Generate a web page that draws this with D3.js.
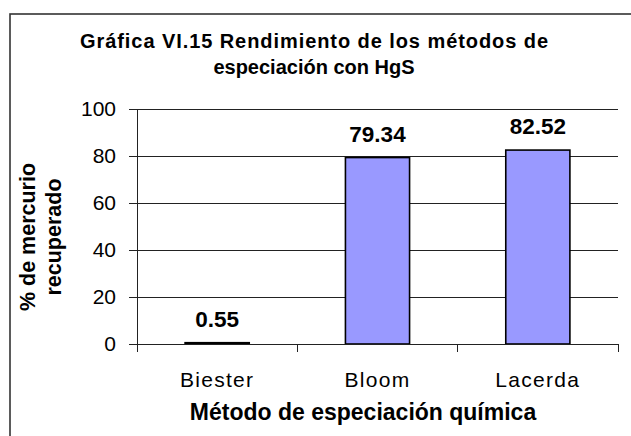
<!DOCTYPE html>
<html><head><meta charset="utf-8">
<script src="https://cdn.jsdelivr.net/npm/d3@7"></script>
<style>
html,body{margin:0;padding:0;background:#fff;}
svg{display:block;font-family:"Liberation Sans",Arial,sans-serif;}
</style></head>
<body>
<svg id="chart" width="631" height="436"></svg>
<script>
const categories = ["Biester", "Bloom", "Lacerda"];
const values = [0.55, 79.34, 82.52];
const valueLabels = ["0.55", "79.34", "82.52"];
const yTicks = [0, 20, 40, 60, 80, 100];
const titleLines = ["Gráfica VI.15 Rendimiento de los métodos de", "especiación con HgS"];
const yTitleLines = ["% de mercurio", "recuperado"];
const xTitle = "Método de especiación química";

const svg = d3.select("#chart");
const plot = {left: 137, right: 618, top: 109, bottom: 344};

// outer frame (clipped by the viewport on right/bottom)
svg.append("rect").attr("x", 10).attr("y", 14).attr("width", 660).attr("height", 460)
  .attr("fill", "none").attr("stroke", "#333").attr("stroke-width", 1.6);

const x = d3.scaleBand().domain(categories).range([plot.left, plot.right]).paddingInner(0).paddingOuter(0);
const y = d3.scaleLinear().domain([0, 100]).range([plot.bottom, plot.top]);

// gridlines
svg.append("g").selectAll("line").data(yTicks.filter(t => t > 0)).join("line")
  .attr("x1", plot.left).attr("x2", plot.right)
  .attr("y1", d => y(d)).attr("y2", d => y(d))
  .attr("stroke", "#222").attr("stroke-width", 1).attr("shape-rendering", "crispEdges");

// y axis
const yAxis = d3.axisLeft(y).tickValues(yTicks).tickSize(8).tickPadding(13).tickSizeOuter(0);
const gy = svg.append("g").attr("transform", `translate(${plot.left},0)`).call(yAxis);
gy.select(".domain").attr("stroke", "#222").attr("shape-rendering", "crispEdges");
gy.selectAll(".tick line").attr("stroke", "#222").attr("shape-rendering", "crispEdges");
gy.selectAll(".tick text").attr("font-size", 21).attr("fill", "#000")
  .attr("font-family", "Liberation Sans, Arial, sans-serif");

// bars
svg.append("g").selectAll("rect").data(values).join("rect")
  .attr("x", (d, i) => x(categories[i]) + x.bandwidth() * 0.3)
  .attr("width", x.bandwidth() * 0.4)
  .attr("y", d => y(d))
  .attr("height", d => y(0) - y(d))
  .attr("fill", "#9999FF").attr("stroke", "#000").attr("stroke-width", 1.6);

// x axis
const xAxis = d3.axisBottom(x).tickSize(0).tickPadding(0);
const gx = svg.append("g").attr("transform", `translate(0,${plot.bottom})`).call(xAxis);
gx.select(".domain").remove();
gx.append("line").attr("x1", plot.left).attr("x2", plot.right).attr("y1", 0).attr("y2", 0)
  .attr("stroke", "#222").attr("shape-rendering", "crispEdges");
gx.selectAll(".tick text").attr("font-size", 21).attr("fill", "#000").attr("dy", null)
  .attr("y", 43).attr("letter-spacing", 1.3)
  .attr("font-family", "Liberation Sans, Arial, sans-serif");
const boundaries = categories.map(c => x(c)).concat([x(categories[categories.length - 1]) + x.bandwidth()]);
gx.selectAll(".bnd").data(boundaries).join("line").attr("class", "bnd")
  .attr("x1", d => d).attr("x2", d => d).attr("y1", 0).attr("y2", 8)
  .attr("stroke", "#222").attr("shape-rendering", "crispEdges");

// value labels
svg.append("g").selectAll("text").data(values).join("text")
  .attr("x", (d, i) => x(categories[i]) + x.bandwidth() / 2)
  .attr("y", d => y(d) - 16)
  .attr("text-anchor", "middle").attr("font-size", 22.5).attr("font-weight", "bold")
  .text((d, i) => valueLabels[i]);

// title
const tl = svg.append("g").selectAll("text").data(titleLines).join("text")
  .attr("x", 314).attr("y", (d, i) => 47.5 + i * 26.5)
  .attr("text-anchor", "middle").attr("font-size", 20).attr("font-weight", "bold")
  .text(d => d);
tl.filter((d, i) => i === 0).attr("textLength", 468).attr("lengthAdjust", "spacing");

// y title
svg.append("g").attr("transform", "translate(0,237)").selectAll("text").data(yTitleLines).join("text")
  .attr("transform", (d, i) => `translate(${35 + i * 26},0) rotate(-90)`)
  .attr("text-anchor", "middle").attr("font-size", 21.5).attr("font-weight", "bold")
  .text(d => d);

// x title
svg.append("text").attr("x", 363).attr("y", 420).attr("text-anchor", "middle")
  .attr("font-size", 23).attr("font-weight", "bold").text(xTitle);
</script>
</body></html>
